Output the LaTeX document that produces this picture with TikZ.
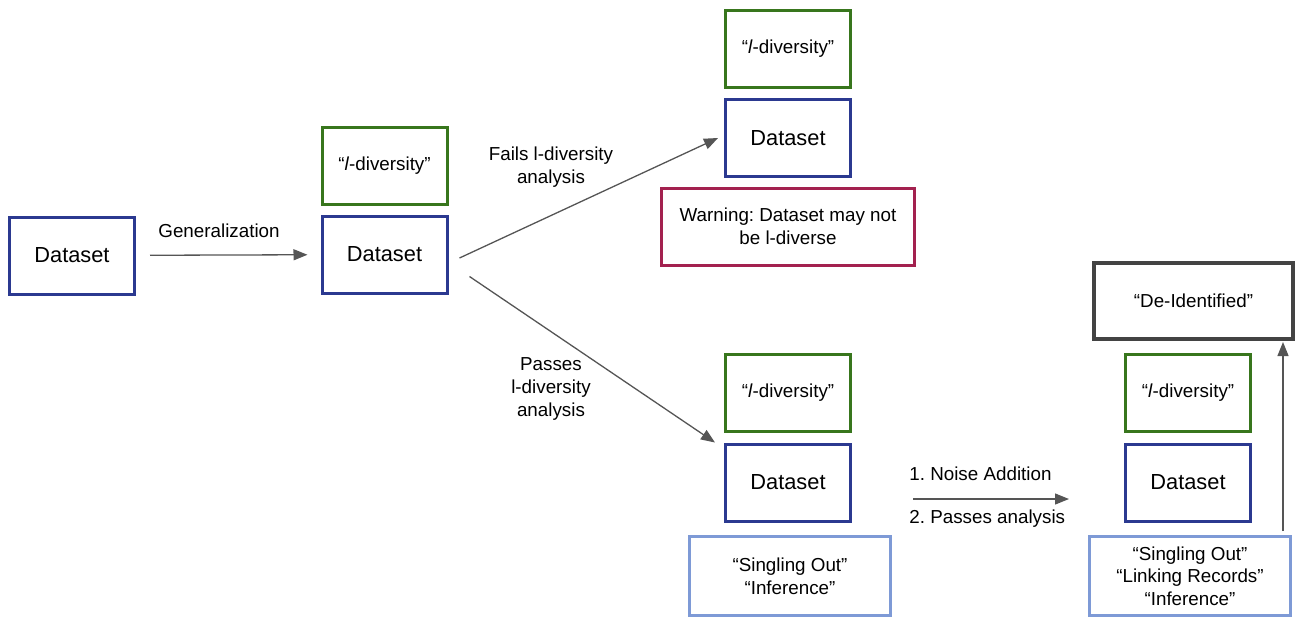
\documentclass[tikz,border=0pt]{standalone}
\usepackage{fontspec}
\setmainfont{Liberation Sans}
\usetikzlibrary{arrows.meta,positioning,calc}
\definecolor{ldiv}{HTML}{38761D}
\definecolor{data}{HTML}{2B3990}
\definecolor{warn}{HTML}{A3214F}
\definecolor{attack}{HTML}{7E9AD6}
\definecolor{deid}{HTML}{434343}
\definecolor{arrowgray}{HTML}{555555}
\frenchspacing

\begin{document}
\begin{tikzpicture}[x=0.5pt,y=-0.5pt,
  plainbox/.style={draw,line width=1.5pt,minimum width=62.5pt,minimum height=38.5pt,
    inner sep=2pt,align=center,text=black,font=\fontsize{9.4}{11.3}\selectfont},
  databox/.style={plainbox,draw=data,font=\fontsize{10.9}{13}\selectfont},
  ldivbox/.style={plainbox,draw=ldiv},
  attackbox/.style={plainbox,draw=attack,minimum width=100.5pt,minimum height=39.5pt},
  arr/.style={-{Triangle[length=7pt,width=5.5pt]},arrowgray,line width=0.65pt},
  lbl/.style={font=\fontsize{9.4}{11.3}\selectfont,align=center,inner sep=1pt}]
  \useasboundingbox (0,0) rectangle (1296,617);

  % start
  \node[databox] (d0) at (72,255.5) {Dataset};

  % after generalization
  \node[ldivbox] (l1) at (384.5,166) {“\textit{l}-diversity”};
  \node[databox] (d1) at (384.5,254.5) {Dataset};

  % fails
  \node[ldivbox] (l2) at (788,49) {“\textit{l}-diversity”};
  \node[databox] (d2) at (788,138) {Dataset};
  \node[plainbox,draw=warn,minimum width=126.5pt] (w2) at (788,226.5)
    {Warning: Dataset may not\\be l-diverse};

  % passes
  \node[ldivbox] (l3) at (788,393) {“\textit{l}-diversity”};
  \node[databox] (d3) at (788,482.5) {Dataset};
  \node[attackbox] (a3) at (790,576) {“Singling Out”\\“Inference”};

  % after noise
  \node[plainbox,draw=deid,line width=2pt,minimum width=99.5pt,minimum height=38pt] (di) at (1193.5,301) {“De-Identified”};
  \node[ldivbox] (l4) at (1188,393) {“\textit{l}-diversity”};
  \node[databox] (d4) at (1188,482.5) {Dataset};
  \node[attackbox] (a4) at (1190,576) {“Singling Out”\\“Linking Records”\\“Inference”};

  % connectors
  \draw[arr,shorten <=7pt,shorten >=6.5pt] (d0) -- (d1);
  \node[lbl] at (219,231) {Generalization};

  \draw[arr] ([xshift=5.5pt,yshift=-1.75pt]d1.east) -- ([xshift=-3pt]d2.west);
  \node[lbl] at (551,167) {Fails l-diversity\\analysis};

  \draw[arr] ([xshift=10.5pt,yshift=-11pt]d1.east) -- ([xshift=-4.5pt]d3.north west);
  \node[lbl] at (551,389) {Passes\\l-diversity\\analysis};

  \draw[arr] ([xshift=30.5pt,yshift=-8.25pt]d3.east) -- ([xshift=-27.5pt,yshift=-8.25pt]d4.west);
  \node[lbl,anchor=west] at (907,474) {1. Noise Addition};
  \node[lbl,anchor=west] at (907,519) {2. Passes analysis};

  \draw[arr,shorten <=2pt,shorten >=0.5pt] ([xshift=-4.5pt]a4.north east) -- ([xshift=-4.5pt]a4.north east |- di.south);
\end{tikzpicture}
\end{document}
